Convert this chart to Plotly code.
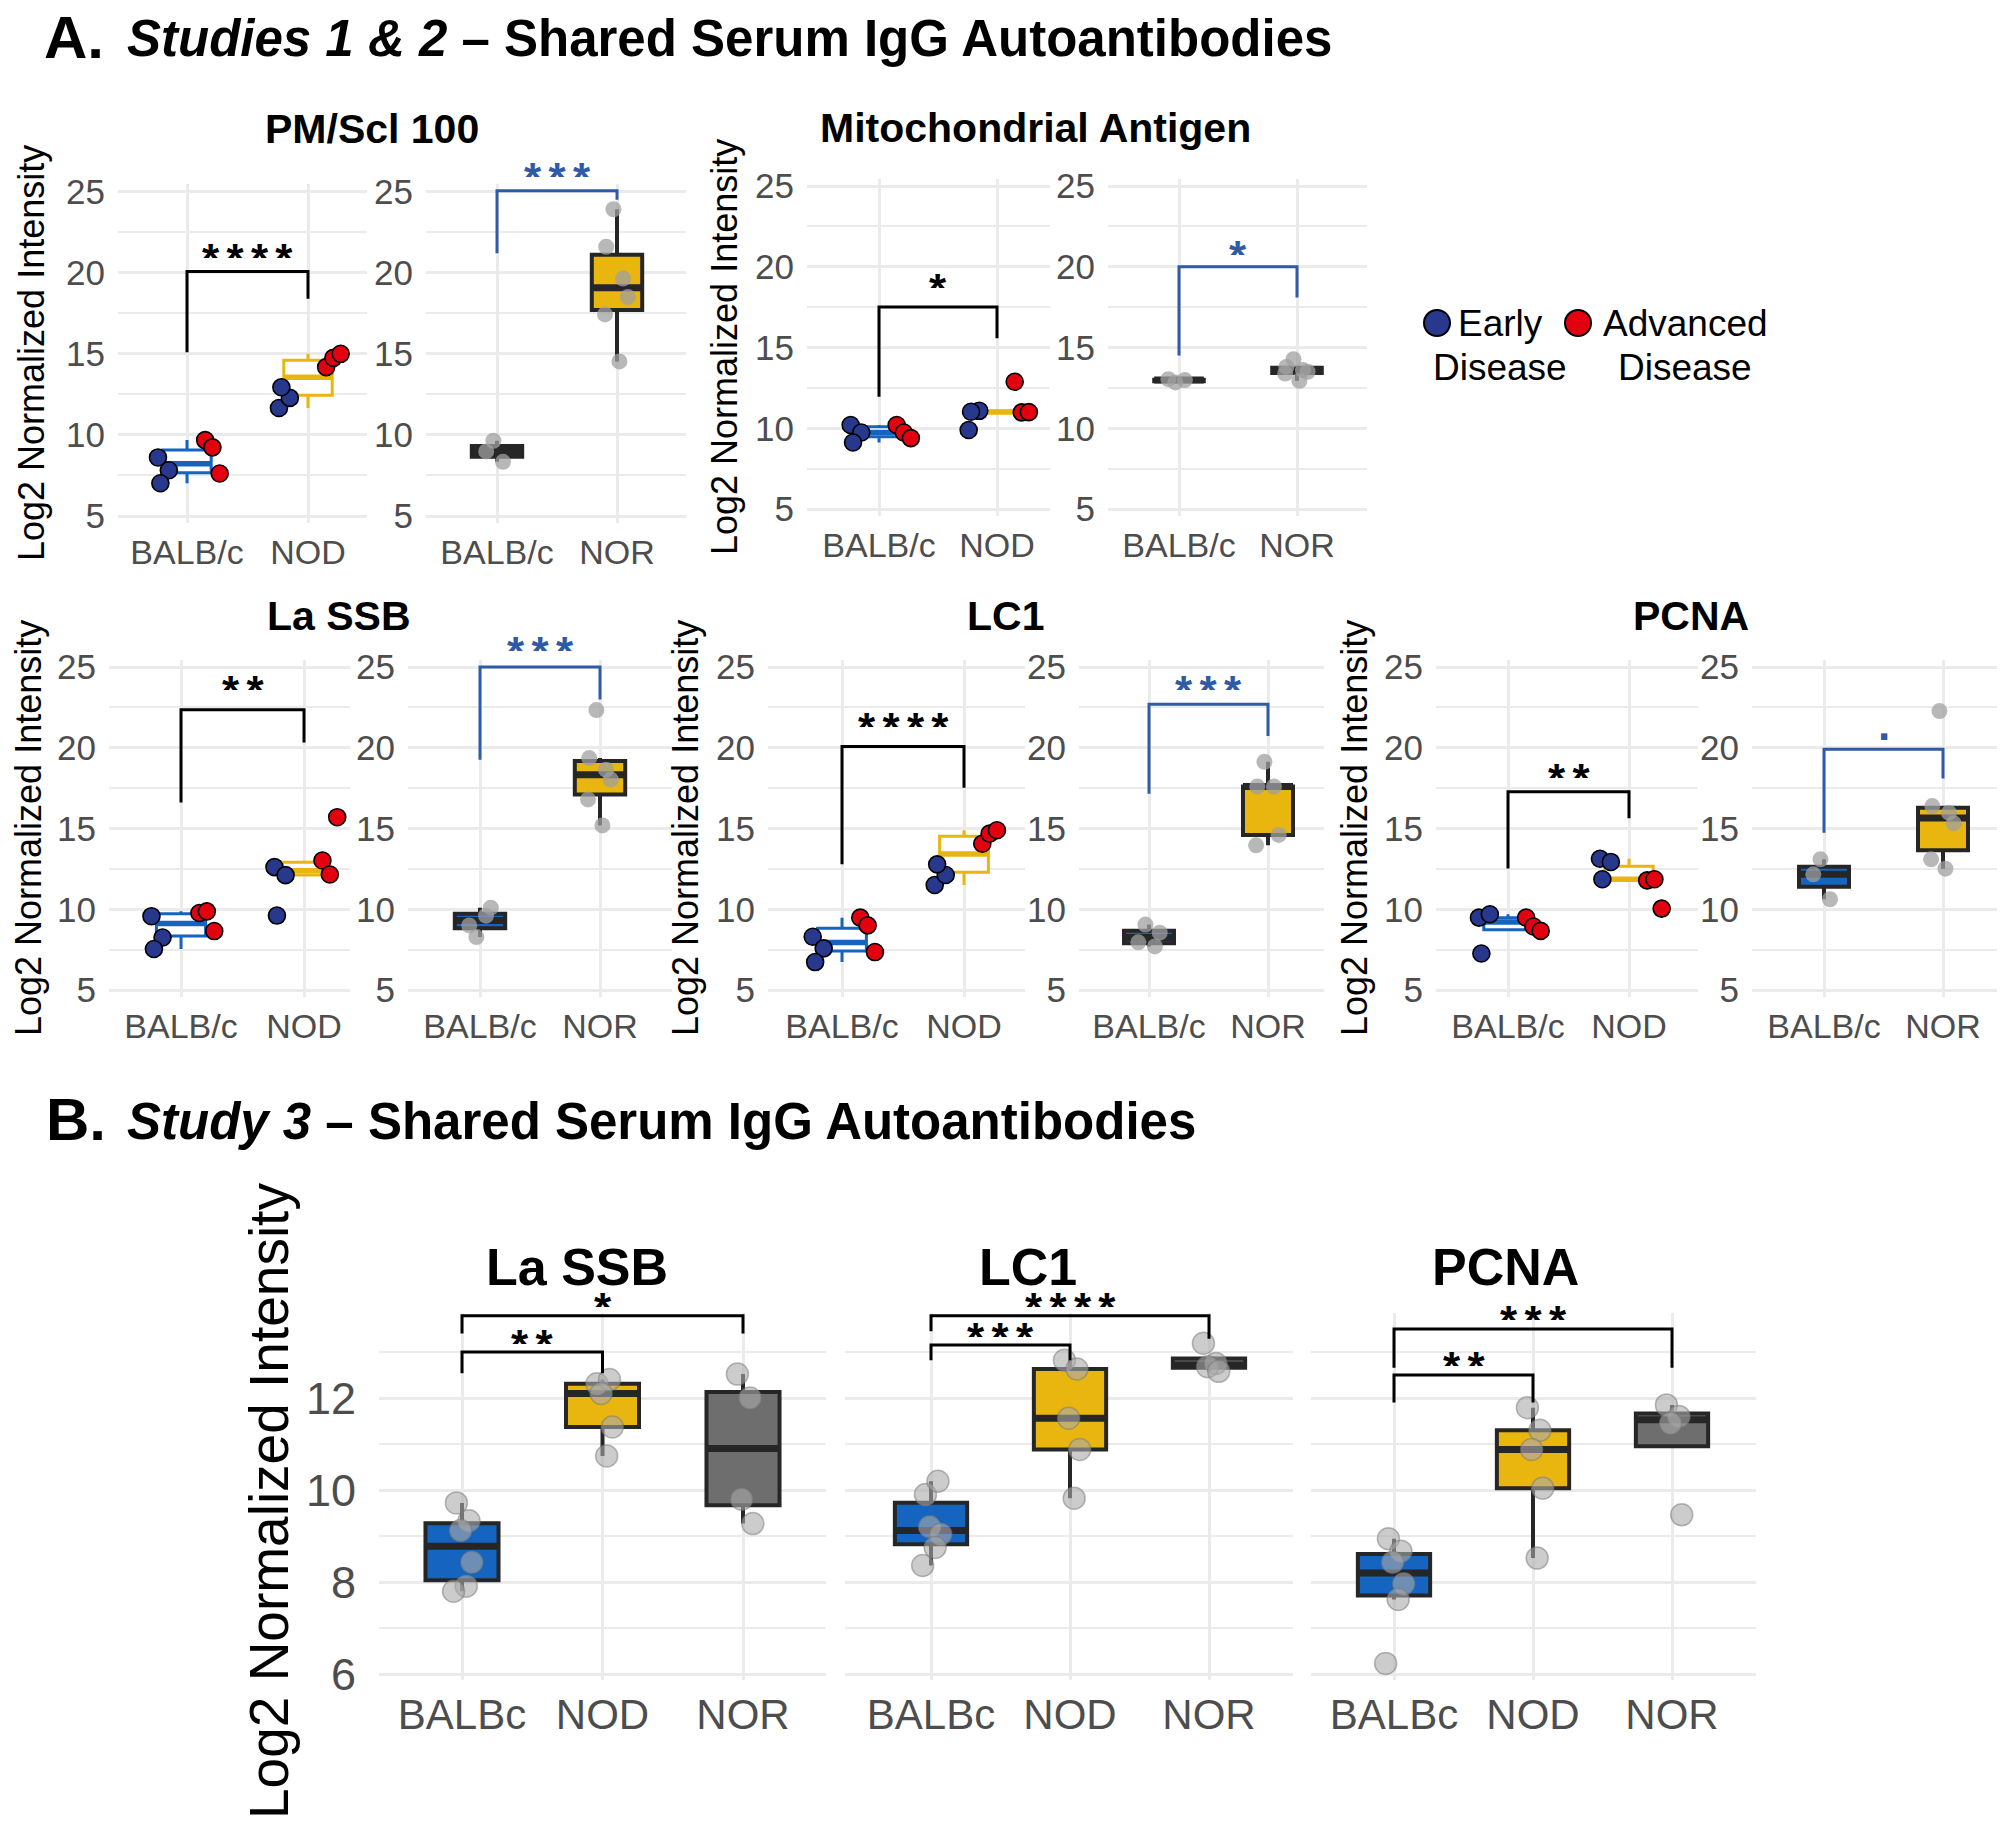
import numpy as np
import plotly.graph_objects as go

# ======================= DATA =======================
# ---- Panel A: Studies 1 & 2 ----
A_TITLES = ["PM/Scl 100", "Mitochondrial Antigen", "La SSB", "LC1", "PCNA"]
A_S1_CATEGORIES = ["BALB/c", "NOD"]
A_S2_CATEGORIES = ["BALB/c", "NOR"]
A_Y_TICKS = [5, 10, 15, 20, 25]
A_Y_MINOR = [7.5, 12.5, 17.5, 22.5]

# Study 1 (points coloured by disease stage)
PM_S1_BALB_EARLY = [8.61, 7.82, 7.02]
PM_S1_BALB_ADV = [9.68, 9.23, 7.62]
PM_S1_NOD_EARLY = [11.66, 12.28, 12.94]
PM_S1_NOD_ADV = [14.18, 14.75, 15.00]
# Study 2
PM_S2_BALB = [9.64, 8.98, 8.34]
PM_S2_NOR = [23.91, 21.60, 19.64, 18.50, 17.43, 14.53]

MITO_S1_BALB_EARLY = [10.20, 9.74, 9.12]
MITO_S1_BALB_ADV = [10.20, 9.74, 9.39]
MITO_S1_NOD_EARLY = [9.89, 11.08, 11.02]
MITO_S1_NOD_ADV = [12.88, 10.98, 11.00]
MITO_S2_BALB = [12.84, 13.04, 12.98]
MITO_S2_NOR = [14.28, 13.80, 13.60, 13.50, 13.39, 12.94]

LASSB_S1_BALB_EARLY = [9.57, 8.25, 7.54]
LASSB_S1_BALB_ADV = [9.77, 9.87, 8.65]
LASSB_S1_NOD_EARLY = [12.61, 12.11, 9.61]
LASSB_S1_NOD_ADV = [13.02, 12.15, 15.70]
LASSB_S2_BALB = [8.28, 9.00, 9.60, 10.10]
LASSB_S2_NOR = [22.33, 19.36, 18.64, 18.03, 16.80, 15.19]

LC1_S1_BALB_EARLY = [8.30, 7.58, 6.73]
LC1_S1_BALB_ADV = [9.48, 9.00, 7.35]
LC1_S1_NOD_EARLY = [11.50, 12.12, 12.78]
LC1_S1_NOD_ADV = [14.06, 14.68, 14.89]
LC1_S2_BALB = [9.05, 7.95, 7.70, 8.55]
LC1_S2_NOR = [19.13, 17.60, 17.60, 14.60, 13.96]

PCNA_S1_BALB_EARLY = [9.48, 9.69, 7.26]
PCNA_S1_BALB_ADV = [9.48, 8.93, 8.66]
PCNA_S1_NOD_EARLY = [13.13, 12.93, 11.86]
PCNA_S1_NOD_ADV = [11.79, 11.86, 10.04]
PCNA_S2_BALB = [13.09, 12.16, 10.62]
PCNA_S2_NOR = [22.27, 16.39, 15.98, 15.32, 13.09, 12.51]

# significance brackets: [left tip, bar, right tip, label height]
A_S1_SIG_LABELS = ["****", "*", "**", "****", "**"]
A_S1_SIG_LEVELS = [[15.10, 20.08, 18.40, 21.10],
                   [11.95, 17.50, 15.58, 18.90],
                   [16.61, 22.36, 20.33, 23.78],
                   [12.78, 20.07, 17.53, 21.50],
                   [12.52, 17.28, 15.63, 18.35]]
A_S2_SIG_LABELS = ["***", "*", "***", "***", "."]
A_S2_SIG_LEVELS = [[21.20, 25.06, 24.50, 26.10],
                   [14.50, 20.00, 18.10, 20.95],
                   [19.26, 25.00, 22.99, 26.20],
                   [17.15, 22.69, 20.73, 23.80],
                   [14.74, 19.90, 18.10, 20.56]]

# ---- Panel B: Study 3 ----
B_TITLES = ["La SSB", "LC1", "PCNA"]
B_CATEGORIES = ["BALBc", "NOD", "NOR"]
B_Y_TICKS = [6, 8, 10, 12]
B_Y_MINOR = [7, 9, 11, 13]

LASSB_B_BALBC = [9.72, 9.33, 9.12, 8.43, 7.91, 7.80]
LASSB_B_NOD = [12.31, 12.40, 12.10, 11.37, 10.74]
LASSB_B_NOR = [12.52, 12.00, 9.80, 9.27]

LC1_B_BALBC = [9.90, 10.19, 9.20, 9.04, 8.75, 8.36]
LC1_B_NOD = [12.82, 12.63, 11.56, 10.88, 9.82]
LC1_B_NOR = [13.19, 12.75, 12.68, 12.58]

PCNA_B_BALBC = [8.94, 8.67, 8.43, 7.96, 7.62, 6.23]
PCNA_B_NOD = [11.79, 11.30, 10.88, 10.04, 8.52]
PCNA_B_NOR = [11.85, 11.60, 11.45, 9.46]

# comparisons: [group i, group j, left tip, bar, right tip, label height]
B_SIG_LABELS = [["**", "*"], ["***", "****"], ["**", "***"]]
B_SIG_LEVELS = [[[1, 2, 12.54, 13.00, 12.54, 13.24], [1, 3, 13.40, 13.79, 13.40, 14.06]],
                [[1, 2, 12.82, 13.15, 12.82, 13.40], [1, 3, 13.45, 13.79, 13.29, 14.06]],
                [[1, 2, 11.90, 12.50, 11.90, 12.77], [1, 3, 12.66, 13.50, 12.66, 13.78]]]

LEGEND_LABELS = [["Early", "Disease"], ["Advanced", "Disease"]]

# assemble per-antigen groups from the named lists
A_S1 = [
    [(PM_S1_BALB_EARLY, PM_S1_BALB_ADV), (PM_S1_NOD_EARLY, PM_S1_NOD_ADV)],
    [(MITO_S1_BALB_EARLY, MITO_S1_BALB_ADV), (MITO_S1_NOD_EARLY, MITO_S1_NOD_ADV)],
    [(LASSB_S1_BALB_EARLY, LASSB_S1_BALB_ADV), (LASSB_S1_NOD_EARLY, LASSB_S1_NOD_ADV)],
    [(LC1_S1_BALB_EARLY, LC1_S1_BALB_ADV), (LC1_S1_NOD_EARLY, LC1_S1_NOD_ADV)],
    [(PCNA_S1_BALB_EARLY, PCNA_S1_BALB_ADV), (PCNA_S1_NOD_EARLY, PCNA_S1_NOD_ADV)],
]
A_S2 = [[PM_S2_BALB, PM_S2_NOR], [MITO_S2_BALB, MITO_S2_NOR], [LASSB_S2_BALB, LASSB_S2_NOR],
        [LC1_S2_BALB, LC1_S2_NOR], [PCNA_S2_BALB, PCNA_S2_NOR]]
B_DATA = [[LASSB_B_BALBC, LASSB_B_NOD, LASSB_B_NOR],
          [LC1_B_BALBC, LC1_B_NOD, LC1_B_NOR],
          [PCNA_B_BALBC, PCNA_B_NOD, PCNA_B_NOR]]

# ======================= STYLE / GEOMETRY =======================
FONT = "Liberation Sans, Arial, Helvetica, sans-serif"
GRID = "#EBEBEB"
TICK_COLOR = "#4D4D4D"
EARLY = "#28388C"
ADV = "#E3000F"
BLUE = "#1565C0"
GOLD = "#E9B50F"
NORGRAY = "#6E6E6E"
DARK = "#262626"
SIGBLUE = "#2F5AA6"
SIG_GAP = "\u2006"

W, H = 2009, 1837


def fx(px):
    return px / W


def fy(py):
    return 1 - py / H


# panel geometry in page pixels: (left, right, first category, last category)
A_GEOM = [
    dict(s1=(118, 367, 187, 308), s2=(426, 686, 497, 617), y=((191.6, 25), (516.0, 5)),
         title=(372, 129), ytitle=(32, 353)),
    dict(s1=(807, 1050, 879, 997), s2=(1108, 1367, 1179, 1297), y=((186.0, 25), (509.0, 5)),
         title=(1035, 128), ytitle=(724, 347)),
    dict(s1=(109, 350, 181, 304), s2=(408, 672, 480, 600), y=((667.0, 25), (990.0, 5)),
         title=(339, 616), ytitle=(28, 828)),
    dict(s1=(768, 1025, 842, 964), s2=(1079, 1324, 1149, 1268), y=((667.0, 25), (990.0, 5)),
         title=(1005, 616), ytitle=(685, 828)),
    dict(s1=(1436, 1698, 1508, 1629), s2=(1752, 1997, 1824, 1943), y=((667.0, 25), (990.0, 5)),
         title=(1691, 616), ytitle=(1354, 828)),
]
A_YRANGE = [4.55, 25.45]
B_GEOM = [(379, 826, 462, 743), (845, 1293, 931, 1209), (1311, 1756, 1394, 1672)]
B_Y = ((1398.0, 12), (1674.0, 6))
B_YRANGE = [5.88, 13.85]
B_TITLE_POS = [(577, 1267), (1028, 1267), (1505, 1267)]

JIT_S1 = [-0.04, 0.05, -0.02]
JIT_S1_ADV = [-0.05, 0.01, 0.07]
DODGE = 0.2
JIT_GRAY = [-0.03, -0.09, 0.05, 0.09, -0.10, 0.02]
JIT_B = [-0.04, 0.05, -0.01, 0.07, 0.03, -0.06]

traces, annotations, shapes = [], [], []
axes = {}
counter = [0]


def new_panel(geom, cats, yref, yrange, tickvals, minorvals, show_y, tick_size, y_tick_size, y_standoff):
    counter[0] += 1
    k = counter[0]
    left, right, c_first, c_last = geom
    n = len(cats)
    ppu = (c_last - c_first) / (n - 1)
    xr = [1 - (c_first - left) / ppu, n + (right - c_last) / ppu]
    (pa, va), (pb, vb) = yref
    ppy = (pb - pa) / (va - vb)
    top = pa - (yrange[1] - va) * ppy
    bot = pb + (vb - yrange[0]) * ppy
    sfx = "" if k == 1 else str(k)
    axes["xaxis" + sfx] = dict(domain=[fx(left), fx(right)], range=xr, anchor="y" + sfx,
                               tickmode="array", tickvals=list(range(1, n + 1)), ticktext=cats,
                               showgrid=True, gridcolor=GRID, gridwidth=2.5, zeroline=False,
                               showline=False, ticks="", automargin=False,
                               tickfont=dict(size=tick_size, color=TICK_COLOR, family=FONT),
                               ticklabelstandoff=6, fixedrange=True)
    axes["yaxis" + sfx] = dict(domain=[fy(bot), fy(top)], range=yrange, anchor="x" + sfx,
                               tickmode="array", tickvals=tickvals, showticklabels=show_y,
                               showgrid=True, gridcolor=GRID, gridwidth=2.5, automargin=False,
                               minor=dict(tickmode="array", tickvals=minorvals, showgrid=True,
                                          gridcolor=GRID, gridwidth=1.6, ticks=""),
                               zeroline=False, showline=False, ticks="",
                               tickfont=dict(size=y_tick_size, color=TICK_COLOR, family=FONT),
                               ticklabelstandoff=y_standoff, fixedrange=True)
    return "x" + sfx, "y" + sfx, yrange


def box_stats(values):
    arr = np.sort(np.asarray(values, dtype=float))
    q1, med, q3 = np.percentile(arr, [25, 50, 75])
    iqr = q3 - q1
    lo = arr[arr >= q1 - 1.5 * iqr].min()
    hi = arr[arr <= q3 + 1.5 * iqr].max()
    return q1, med, q3, lo, hi


def add_box(xa, ya, pos, values, width, fill, line_color, lw, med_lw):
    q1, med, q3, lo, hi = box_stats(values)
    traces.append(go.Box(x=[pos], q1=[q1], median=[med], q3=[q3], lowerfence=[lo],
                         upperfence=[hi], width=width, fillcolor=fill,
                         line=dict(color=line_color, width=lw), whiskerwidth=0,
                         boxpoints=False, xaxis=xa, yaxis=ya, hoverinfo="skip"))
    traces.append(go.Scatter(x=[pos - width / 2, pos + width / 2], y=[med, med], mode="lines",
                             line=dict(color=line_color, width=med_lw), xaxis=xa, yaxis=ya,
                             hoverinfo="skip"))


def add_points(xa, ya, pos, values, jitter, marker):
    xs = [pos + jitter[i % len(jitter)] for i in range(len(values))]
    traces.append(go.Scatter(x=xs, y=values, mode="markers", marker=marker, xaxis=xa, yaxis=ya,
                             hoverinfo="skip", cliponaxis=False))


def add_bracket(xa, ya, yrange, i, j, tipl, bar, tipr, label, label_y, color, size):
    traces.append(go.Scatter(x=[i, i, j, j], y=[tipl, bar, bar, tipr], mode="lines",
                             line=dict(color=color, width=3), xaxis=xa, yaxis=ya,
                             hoverinfo="skip"))
    # label placed in the panel's domain frame so that it may sit above the data range
    ydom = (label_y - yrange[0]) / (yrange[1] - yrange[0])
    ann = dict(x=(i + j) / 2, y=ydom, xref=xa, yref=ya + " domain",
               xanchor="center", yanchor="middle",
               text="<b>%s</b>" % SIG_GAP.join(label), showarrow=False,
               font=dict(size=size, color=color, family=FONT))
    if label == ".":
        ann["yshift"] = 14
    else:
        # tight box around the asterisk glyphs (they sit in the upper part of the line box)
        ann.update(height=23, valign="top", yshift=8)
    annotations.append(ann)


def text(x, y, s, size, color="black", xanchor="center", angle=0, height=None):
    ann = dict(x=fx(x), y=fy(y), xref="paper", yref="paper", text=s,
               showarrow=False, xanchor=xanchor, yanchor="middle", textangle=angle,
               font=dict(size=size, color=color, family=FONT))
    if height:
        ann.update(height=height, valign="middle")
    annotations.append(ann)


GRAY_A = dict(size=16, color="rgba(160,160,160,0.75)", line=dict(width=0))
GRAY_B = dict(size=22, color="rgba(170,170,170,0.6)", line=dict(width=1.5, color="rgba(120,120,120,0.5)"))

# ======================= PANEL A =======================
for a, name in enumerate(A_TITLES):
    g = A_GEOM[a]
    # --- study 1 ---
    xa, ya, yr = new_panel(g["s1"], A_S1_CATEGORIES, g["y"], A_YRANGE, A_Y_TICKS, A_Y_MINOR,
                           True, 34, 35, 12)
    for c, (early, adv) in enumerate(A_S1[a]):
        add_box(xa, ya, c + 1, list(early) + list(adv), 0.4, "white",
                BLUE if c == 0 else GOLD, 3, 5.5)
    for c, (early, adv) in enumerate(A_S1[a]):
        pos = c + 1
        add_points(xa, ya, pos - DODGE, early, JIT_S1,
                   dict(size=17, color=EARLY, line=dict(width=1.6, color="black")))
        add_points(xa, ya, pos + DODGE, adv, JIT_S1_ADV,
                   dict(size=17, color=ADV, line=dict(width=1.6, color="black")))
    tl, bar, tr, ly = A_S1_SIG_LEVELS[a]
    add_bracket(xa, ya, yr, 1, 2, tl, bar, tr, A_S1_SIG_LABELS[a], ly, "black", 44)
    # --- study 2 ---
    xa, ya, yr = new_panel(g["s2"], A_S2_CATEGORIES, g["y"], A_YRANGE, A_Y_TICKS, A_Y_MINOR,
                           True, 34, 35, 12)
    for c, vals in enumerate(A_S2[a]):
        add_box(xa, ya, c + 1, vals, 0.42, BLUE if c == 0 else GOLD, DARK, 4, 7)
    for c, vals in enumerate(A_S2[a]):
        add_points(xa, ya, c + 1, vals, JIT_GRAY, GRAY_A)
    tl, bar, tr, ly = A_S2_SIG_LEVELS[a]
    add_bracket(xa, ya, yr, 1, 2, tl, bar, tr, A_S2_SIG_LABELS[a], ly, SIGBLUE, 44)
    # titles
    text(g["title"][0], g["title"][1], "<b>%s</b>" % name, 41)
    text(g["ytitle"][0], g["ytitle"][1], "Log2 Normalized Intensity", 36, angle=-90)

# ======================= PANEL B =======================
B_FILLS = [BLUE, GOLD, NORGRAY]
for b, name in enumerate(B_TITLES):
    xa, ya, yr = new_panel(B_GEOM[b], B_CATEGORIES, B_Y, B_YRANGE, B_Y_TICKS, B_Y_MINOR,
                           b == 0, 42, 45, 22)
    for c, vals in enumerate(B_DATA[b]):
        add_box(xa, ya, c + 1, vals, 0.52, B_FILLS[c], DARK, 4, 7)
    for c, vals in enumerate(B_DATA[b]):
        add_points(xa, ya, c + 1, vals, JIT_B, GRAY_B)
    for lab, (i, j, tl, bar, tr, ly) in zip(B_SIG_LABELS[b], B_SIG_LEVELS[b]):
        add_bracket(xa, ya, yr, i, j, tl, bar, tr, lab, ly, "black", 44)
    text(B_TITLE_POS[b][0], B_TITLE_POS[b][1], "<b>%s</b>" % name, 52, height=42)
text(269, 1501, "Log2 Normalized Intensity", 55, angle=-90)

# ======================= HEADINGS & LEGEND =======================
text(42, 37, "<b>A.</b>", 60, xanchor="left")
text(125, 39, "<b><i>Studies 1 & 2</i> – Shared Serum IgG Autoantibodies</b>", 51, xanchor="left")
text(44, 1119, "<b>B.</b>", 60, xanchor="left")
text(125, 1121, "<b><i>Study 3</i> – Shared Serum IgG Autoantibodies</b>", 51, xanchor="left")

for (cx, color, tx), labels in zip([(1437, EARLY, 1500), (1578, ADV, 1685)], LEGEND_LABELS):
    shapes.append(dict(type="circle", xref="paper", yref="paper", xsizemode="pixel",
                       ysizemode="pixel", xanchor=fx(cx), yanchor=fy(323), x0=-13, x1=13,
                       y0=-13, y1=13, fillcolor=color, line=dict(color="black", width=2)))
    text(tx, 323, labels[0], 37)
    text(tx, 368, labels[1], 37)

fig = go.Figure(data=traces)
fig.update_layout(width=W, height=H, autosize=False,
                  margin=dict(l=0, r=0, t=0, b=0, pad=0, autoexpand=False),
                  paper_bgcolor="white", plot_bgcolor="white", showlegend=False,
                  boxmode="overlay", font=dict(family=FONT), annotations=annotations,
                  shapes=shapes, **axes)
fig.write_html("out.html", config={"displayModeBar": False, "responsive": False},
               post_script="document.body.style.margin='0px';document.body.style.overflow='hidden';")
